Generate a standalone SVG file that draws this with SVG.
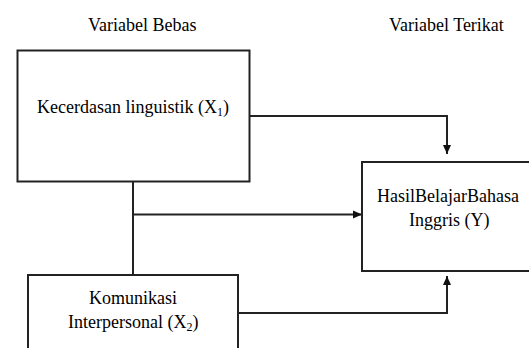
<svg xmlns="http://www.w3.org/2000/svg" width="529" height="348" viewBox="0 0 529 348">
<defs>
<marker id="ah" markerUnits="userSpaceOnUse" markerWidth="10" markerHeight="10" viewBox="0 0 10 10" refX="10" refY="5" orient="auto">
<path d="M1,1 L10,5 L1,9 Z" fill="#111"/>
</marker>
</defs>
<text x="88" y="31" font-family="Liberation Serif" font-size="18">Variabel Bebas</text>
<text x="389" y="31" font-family="Liberation Serif" font-size="18">Variabel Terikat</text>
<g id="connectors" fill="none" stroke="#222" stroke-width="2">
<path d="M133,181.5 V275"/>
<path d="M133,214.5 H362" marker-end="url(#ah)"/>
<path d="M249.5,116 H447 V154" marker-end="url(#ah)"/>
<path d="M238,313 H447 V276" marker-end="url(#ah)"/>
</g>
<g id="x1">
<rect x="17.5" y="50.5" width="232" height="131" fill="#fff" stroke="#222" stroke-width="2"/>
<text x="37" y="113" font-family="Liberation Serif" font-size="18">Kecerdasan linguistik (X<tspan font-size="12" dy="3">1</tspan><tspan dy="-3">)</tspan></text>
</g>
<g id="y">
<rect x="362" y="162" width="180" height="109" fill="#fff" stroke="#222" stroke-width="2"/>
<text x="377" y="202" font-family="Liberation Serif" font-size="18">HasilBelajarBahasa</text>
<text x="409" y="226" font-family="Liberation Serif" font-size="18">Inggris (Y)</text>
</g>
<g id="x2">
<rect x="28" y="275" width="210" height="100" fill="#fff" stroke="#222" stroke-width="2"/>
<text x="89" y="304" font-family="Liberation Serif" font-size="18">Komunikasi</text>
<text x="68" y="328" font-family="Liberation Serif" font-size="18">Interpersonal (X<tspan font-size="12" dy="3">2</tspan><tspan dy="-3">)</tspan></text>
</g>
</svg>
